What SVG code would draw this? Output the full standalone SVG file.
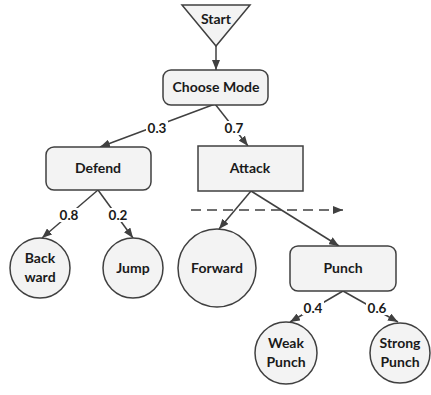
<svg xmlns="http://www.w3.org/2000/svg" width="431" height="395" viewBox="0 0 431 395">
<style>
.n{fill:#f3f3f3;stroke:#404040;stroke-width:1.5}
.t{font-family:Lato,"Liberation Sans",sans-serif;font-weight:bold;font-size:14px;fill:#1a1a1a;text-anchor:middle}
.l{font-family:Lato,"Liberation Sans",sans-serif;font-weight:bold;font-size:13.5px;fill:#1a1a1a;text-anchor:middle}
.e{stroke:#404040;stroke-width:1.5;fill:none}
.bg{fill:#fff}
</style>
<defs>
<marker id="a" markerUnits="userSpaceOnUse" markerWidth="11" markerHeight="8" refX="10" refY="4" orient="auto">
<path d="M0,0 L10,4 L0,8 z" fill="#404040"/>
</marker>
</defs>
<rect width="431" height="395" fill="#fff"/>
<g id="connectors">
<line class="e" x1="216" y1="46" x2="216" y2="70" marker-end="url(#a)"/>
<line class="e" x1="215" y1="104" x2="100" y2="147" marker-end="url(#a)"/>
<line class="e" x1="215" y1="104" x2="248" y2="146" marker-end="url(#a)"/>
<line class="e" x1="98" y1="190" x2="42" y2="238" marker-end="url(#a)"/>
<line class="e" x1="98" y1="190" x2="133" y2="238" marker-end="url(#a)"/>
<line class="e" x1="251" y1="191" x2="219" y2="229" marker-end="url(#a)"/>
<line class="e" x1="251" y1="191" x2="339" y2="246" marker-end="url(#a)"/>
<line class="e" x1="343" y1="291" x2="290" y2="322" marker-end="url(#a)"/>
<line class="e" x1="343" y1="291" x2="398" y2="322" marker-end="url(#a)"/>
<line class="e" x1="191" y1="210" x2="343" y2="210" stroke-dasharray="10,6" marker-end="url(#a)"/>
<rect class="bg" x="146" y="121" width="22" height="14"/>
<text class="l" x="157" y="133">0.3</text>
<rect class="bg" x="223" y="121" width="22" height="14"/>
<text class="l" x="234" y="133">0.7</text>
<rect class="bg" x="58" y="208" width="22" height="14"/>
<text class="l" x="69" y="220">0.8</text>
<rect class="bg" x="107" y="208" width="22" height="14"/>
<text class="l" x="118" y="220">0.2</text>
<rect class="bg" x="302" y="301" width="22" height="14"/>
<text class="l" x="313" y="313">0.4</text>
<rect class="bg" x="366" y="301" width="22" height="14"/>
<text class="l" x="377" y="313">0.6</text>
</g>
<g id="start">
<polygon class="n" points="182,5 250,5 216,46"/>
<text class="t" x="216" y="24">Start</text>
</g>
<g id="choose-mode">
<rect class="n" x="163" y="70" width="105" height="35" rx="8"/>
<text class="t" x="216" y="92">Choose Mode</text>
</g>
<g id="defend">
<rect class="n" x="46" y="147" width="105" height="43" rx="8"/>
<text class="t" x="98" y="173">Defend</text>
</g>
<g id="attack">
<rect class="n" x="198" y="146" width="105" height="45"/>
<text class="t" x="250" y="173">Attack</text>
</g>
<g id="backward">
<circle class="n" cx="40" cy="268" r="30"/>
<text class="t" x="40" y="263">Back</text>
<text class="t" x="40" y="282">ward</text>
</g>
<g id="jump">
<circle class="n" cx="133" cy="268" r="30"/>
<text class="t" x="133" y="273">Jump</text>
</g>
<g id="forward">
<circle class="n" cx="217" cy="268" r="39"/>
<text class="t" x="217" y="273">Forward</text>
</g>
<g id="punch">
<rect class="n" x="290" y="246" width="106" height="45" rx="8"/>
<text class="t" x="343" y="273">Punch</text>
</g>
<g id="weak-punch">
<circle class="n" cx="286" cy="353" r="31"/>
<text class="t" x="286" y="348">Weak</text>
<text class="t" x="286" y="367">Punch</text>
</g>
<g id="strong-punch">
<circle class="n" cx="400" cy="353" r="30"/>
<text class="t" x="400" y="348">Strong</text>
<text class="t" x="400" y="367">Punch</text>
</g>
</svg>
